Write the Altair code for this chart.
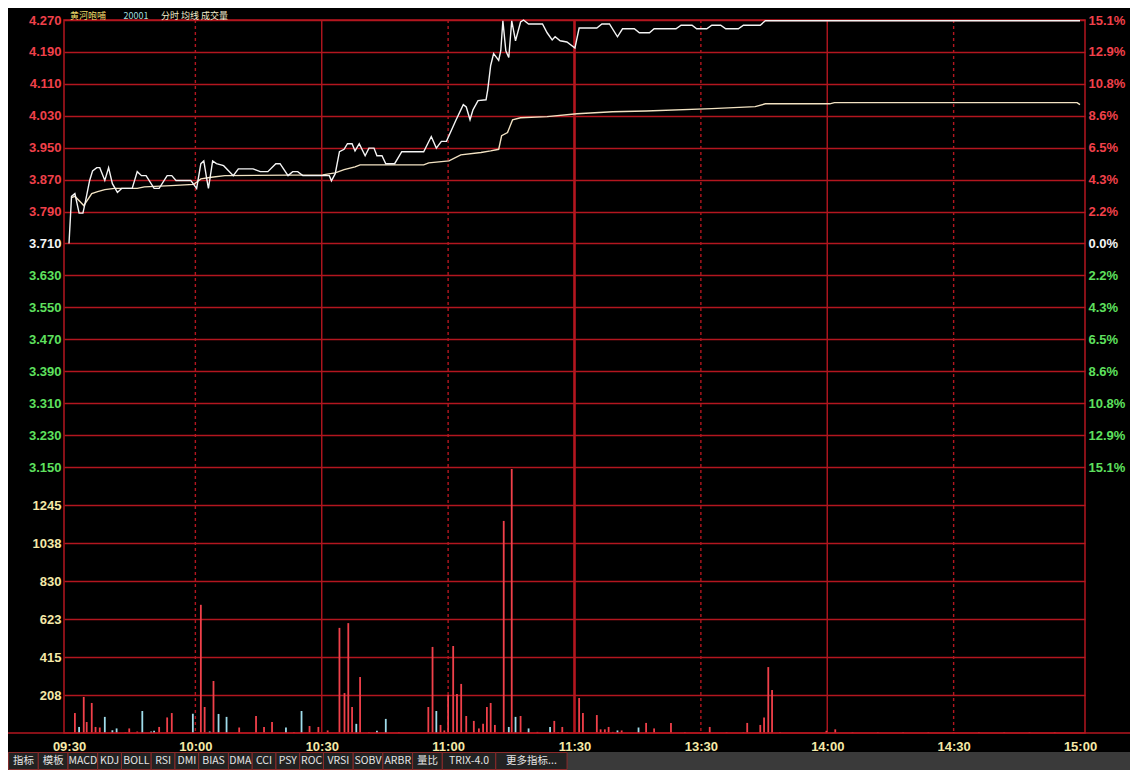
import altair as alt
import pandas as pd

# ---------------- values ----------------
prev_close = 3.71
stock_name = "黄河咆哺"
stock_code = "20001"
panel_names = "分时 均线 成交量"

# minutes after 09:30 (trading minutes, 13:00 follows 11:30) and price
price_min = [0, 0.6, 1.4, 2.4, 3.3, 3.8, 4.9, 5.6, 6.6, 7.3,
             8.5, 9.4, 10.3, 11.5, 12.5, 15.0, 16.2, 17.2, 18.3, 20.2,
             21.4, 23.3, 24.4, 25.4, 28.9, 30.3, 31.3, 32.0, 32.7, 33.1,
             34.1, 35.0, 36.7, 37.8, 39.0, 40.2, 43.7, 45.4, 47.2, 49.1,
             50.1, 52.0, 53.1, 54.3, 55.5, 61.8, 62.3, 63.2, 64.2, 65.3,
             66.1, 67.2, 67.9, 68.9, 70.3, 71.2, 72.4, 73.1, 74.3, 75.2,
             77.3, 79.0, 84.2, 86.0, 87.2, 88.4, 89.6, 91.9, 93.6, 94.3,
             95.2, 95.9, 97.1, 99.0, 99.4, 100.1, 100.8, 102.0, 102.5, 103.0,
             103.7, 104.4, 105.1, 106.0, 107.2, 107.9, 109.1, 112.4, 113.5, 114.7,
             115.4, 116.6, 118.2, 120.1, 121.1, 125.3, 126.5, 128.3, 130.2, 131.4,
             134.2, 135.4, 137.8, 138.9, 144.1, 145.3, 147.9, 149.0, 151.4, 152.6,
             154.7, 155.9, 158.9, 160.1, 164.1, 165.3, 240.0]
price_val = [3.710, 3.828, 3.835, 3.786, 3.786, 3.810, 3.868, 3.892, 3.900, 3.900,
             3.868, 3.900, 3.860, 3.838, 3.848, 3.848, 3.890, 3.880, 3.880, 3.848,
             3.848, 3.880, 3.880, 3.868, 3.868, 3.848, 3.910, 3.917, 3.872, 3.848,
             3.917, 3.910, 3.905, 3.893, 3.880, 3.897, 3.897, 3.890, 3.890, 3.910,
             3.910, 3.880, 3.890, 3.890, 3.880, 3.880, 3.867, 3.885, 3.940, 3.946,
             3.960, 3.960, 3.942, 3.960, 3.930, 3.949, 3.949, 3.930, 3.930, 3.910,
             3.910, 3.940, 3.940, 3.978, 3.949, 3.966, 3.966, 4.020, 4.058, 4.052,
             4.020, 4.045, 4.068, 4.070, 4.095, 4.156, 4.186, 4.169, 4.193, 4.268,
             4.193, 4.176, 4.268, 4.218, 4.265, 4.270, 4.260, 4.260, 4.238, 4.220,
             4.228, 4.218, 4.215, 4.200, 4.250, 4.250, 4.260, 4.260, 4.228, 4.248,
             4.248, 4.238, 4.238, 4.248, 4.248, 4.257, 4.257, 4.248, 4.248, 4.257,
             4.257, 4.248, 4.248, 4.257, 4.257, 4.268, 4.268]

avg_min = [0.6, 1.4, 2.6, 3.5, 5.4, 6.8, 8.5, 10.8, 16.2, 17.9,
           24.2, 29.6, 31.3, 33.8, 37.0, 60.2, 63.2, 65.3, 67.9, 69.1,
           84.2, 85.4, 90.2, 93.0, 97.8, 100.1, 102.0, 102.7, 104.1, 105.3,
           107.2, 113.5, 120.6, 129.0, 137.0, 152.6, 162.9, 165.3, 180.6, 181.7,
           239.3, 240.0]
avg_val = [3.825, 3.828, 3.815, 3.805, 3.835, 3.840, 3.845, 3.848, 3.848, 3.852,
           3.855, 3.858, 3.872, 3.876, 3.880, 3.882, 3.887, 3.895, 3.902, 3.907,
           3.907, 3.912, 3.917, 3.932, 3.938, 3.942, 3.946, 3.980, 3.988, 4.020,
           4.025, 4.028, 4.035, 4.040, 4.042, 4.048, 4.053, 4.060, 4.060, 4.063,
           4.063, 4.058]

# volume bars: price-up minutes (red) and price-down minutes (cyan)
up_min = [1.4, 3.5, 4.2, 5.4, 6.3, 7.3, 13.4, 14.3, 16.2, 21.4,
          23.3, 24.4, 31.3, 32.2, 34.3, 40.4, 44.4, 46.3, 48.2, 53.4,
          57.1, 59.2, 61.4, 64.2, 65.4, 66.3, 67.2, 69.1, 71.2, 78.3,
          85.3, 86.3, 88.2, 89.1, 90.0, 91.2, 92.1, 93.1, 94.3, 96.1,
          97.3, 98.3, 99.2, 100.1, 101.1, 103.2, 105.1, 107.2, 111.2, 115.2,
          116.1, 117.1, 118.2, 121.1, 122.0, 125.3, 126.2, 127.2, 128.1, 129.1,
          131.2, 137.0, 138.9, 142.9, 146.2, 152.1, 156.1, 160.1, 161.0, 164.1,
          165.0, 166.0, 166.9, 168.8, 179.8, 181.9, 186.0, 192.0, 198.0, 204.0,
          210.0, 216.0, 222.0, 228.0, 234.0]
up_val = [109, 197, 60, 164, 33, 30, 5, 25, 8, 33,
          85, 109, 700, 142, 284, 30, 93, 33, 60, 5,
          38, 33, 14, 574, 218, 600, 142, 306, 5, 4,
          142, 470, 44, 14, 208, 475, 213, 268, 93, 66,
          25, 50, 142, 164, 44, 1158, 1442, 93, 6, 66,
          6, 33, 4, 191, 109, 98, 20, 20, 33, 6,
          14, 55, 25, 55, 5, 33, 4, 4, 55, 44,
          85, 360, 235, 5, 12, 20, 4, 4, 4, 4,
          4, 4, 4, 4, 4]
down_min = [2.4, 8.5, 10.3, 11.3, 17.4, 19.5, 20.2, 29.4, 33.4, 35.5,
            37.4, 51.5, 55.2, 68.2, 73.1, 75.2, 87.2, 104.4, 106.0, 109.1,
            114.2, 130.2, 135.2]
down_val = [33, 88, 15, 25, 120, 8, 12, 105, 8, 104,
            88, 30, 120, 50, 12, 77, 120, 33, 88, 25,
            33, 14, 30]

price_ticks = [3.150, 3.230, 3.310, 3.390, 3.470, 3.550, 3.630, 3.710, 3.790, 3.870, 3.950,
               4.030, 4.110, 4.190, 4.270]
vol_ticks = [207.5, 415, 622.5, 830, 1037.5, 1245]
vol_top = 1452.5
time_ticks = [0, 30, 60, 90, 120, 150, 180, 210, 240]
time_labels = ["09:30", "10:00", "10:30", "11:00", "11:30", "13:30", "14:00", "14:30", "15:00"]
grid_min = [30, 60, 90, 120, 150, 180, 210]
grid_kind = ["dash", "solid", "dash", "bold", "dash", "solid", "dash"]
tab_labels = ["指标", "模板", "MACD", "KDJ", "BOLL", "RSI", "DMI", "BIAS", "DMA", "CCI",
              "PSY", "ROC", "VRSI", "SOBV", "ARBR", "量比", "TRIX-4.0", "更多指标..."]

# ---------------- layout / style ----------------
PAD_L, PAD_T, PAD_R = 56, 12, 45
W = 1021                  # plot width
H = 725 - PAD_T           # plot area height (both panels), bottom at page y 733
PH = 459 - PAD_T          # price panel height, ends at page y 467
TOTAL_H = 762
PAD_B = TOTAL_H - PAD_T - H

RED = "#f0404a"
GREEN = "#5ee05e"
WHITE = "#f4f4f4"
YEL = "#f5e9a8"
GRID = "#b3161f"
FONT = "Liberation Sans"

price_df = pd.DataFrame({"m": price_min, "p": price_val})
avg_df = pd.DataFrame({"m": avg_min, "p": avg_val})
vol_df = pd.concat([
    pd.DataFrame({"m": up_min, "v": up_val, "d": "u"}),
    pd.DataFrame({"m": down_min, "v": down_val, "d": "d"}),
], ignore_index=True)
grid_df = pd.DataFrame({"m": grid_min, "kind": grid_kind})


def px_to_min(px):
    return px / W * 240.0


# tab geometry derived from label lengths
def text_w(s):
    return 6 + sum(12 if ord(c) > 0x2E80 else 6 for c in s)


x0 = -61.0
rows = []
for lab in tab_labels:
    w = text_w(lab)
    rows.append({"lab": lab, "a": px_to_min(x0), "b": px_to_min(x0 + w),
                 "m": px_to_min(x0 + w / 2.0)})
    x0 += w
tab_df = pd.DataFrame(rows)

label_arr = "[" + ",".join("'%s'" % t for t in time_labels) + "]"

x_scale = alt.Scale(domain=[0, 240], nice=False, zero=False)
x_axis = alt.Axis(values=time_ticks, labelExpr=label_arr + "[round(datum.value/30)]",
                  grid=False, ticks=False, domain=False, labelFlush=False,
                  labelColor=YEL, labelFont=FONT, labelFontWeight="bold",
                  labelFontSize=13, labelPadding=7, title=None)
x_enc = alt.X("m:Q", scale=x_scale, axis=x_axis)

price_scale = alt.Scale(domain=[3.15, 4.27], range=[PH, 0], nice=False, zero=False)
price_scale2 = alt.Scale(domain=[3.15, 4.27], range=[PH, 0], nice=False, zero=False)
vol_scale = alt.Scale(domain=[0, vol_top], range=[H, PH], nice=False, zero=True)

three_color = {
    "condition": [
        {"test": "datum.value > %f" % (prev_close + 0.001), "value": RED},
        {"test": "datum.value > %f" % (prev_close - 0.001), "value": WHITE},
    ],
    "value": GREEN,
}

price_axis = alt.Axis(orient="left", values=price_ticks, format=".3f", grid=True,
                      gridColor=GRID, gridWidth=1.5, ticks=False, domain=False,
                      labelColor=three_color, labelFont=FONT, labelFontWeight="bold",
                      labelFontSize=13, labelPadding=3, title=None)
pct_axis = alt.Axis(orient="right", values=price_ticks, grid=False, ticks=False,
                    domain=False,
                    labelExpr="format(abs((datum.value-%f)/%f*100), '.1f') + '%%'"
                              % (prev_close, prev_close),
                    labelColor=three_color, labelFont=FONT, labelFontWeight="bold",
                    labelFontSize=13, labelPadding=3, title=None)
vol_axis = alt.Axis(orient="left", values=vol_ticks, format=".0f", grid=True,
                    gridColor=GRID, gridWidth=1.5, ticks=False, domain=False,
                    labelColor=YEL, labelFont=FONT, labelFontWeight="bold",
                    labelFontSize=13, labelPadding=3, title=None)

# vertical grid lines
vgrid = alt.Chart(grid_df).mark_rule(color=GRID).encode(
    x=x_enc,
    y=alt.value(0), y2=alt.value(H),
    strokeDash=alt.condition("datum.kind == 'dash'", alt.value([3, 3]), alt.value([1, 0])),
    strokeWidth=alt.condition("datum.kind == 'bold'", alt.value(2.6), alt.value(1.4)),
)

bars = alt.Chart(vol_df).mark_bar(width=1.8).encode(
    x=x_enc,
    y=alt.Y("v:Q", scale=vol_scale, axis=vol_axis),
    color=alt.Color("d:N", scale=alt.Scale(domain=["u", "d"], range=[RED, "#9fdcea"]),
                    legend=None),
)

avg_line = alt.Chart(avg_df).mark_line(color="#f2e2c2", strokeWidth=1.4).encode(
    x=x_enc,
    y=alt.Y("p:Q", scale=price_scale2, axis=pct_axis),
)

price_line = alt.Chart(price_df).mark_line(color=WHITE, strokeWidth=1.4).encode(
    x=x_enc,
    y=alt.Y("p:Q", scale=price_scale, axis=price_axis),
)

one = pd.DataFrame({"k": [0]})

bottom_line = alt.Chart(one).mark_rule(color=GRID, strokeWidth=1.5).encode(
    x=alt.value(-PAD_L), x2=alt.value(W + PAD_R), y=alt.value(H))

bar_bg = alt.Chart(one).mark_rect(color="#3a3a3a").encode(
    x=alt.value(-PAD_L), x2=alt.value(W + PAD_R), y=alt.value(H + 19), y2=alt.value(H + 37))

tab_rects = alt.Chart(tab_df).mark_rect(fill="#222222", stroke="#8a2a2a",
                                        strokeWidth=1).encode(
    x=alt.X("a:Q", scale=x_scale, axis=x_axis), x2="b:Q",
    y=alt.value(H + 19.5), y2=alt.value(H + 36.5))

tab_text = alt.Chart(tab_df).mark_text(color="#e4e4e4", font="Noto Sans CJK SC",
                                       fontSize=10.5, baseline="middle").encode(
    x=x_enc,
    y=alt.value(H + 28), text="lab:N")

title_df = pd.DataFrame({
    "t": [stock_name, stock_code, panel_names],
    "m": [px_to_min(1), px_to_min(55), px_to_min(93)],
    "col": ["#f0dc6a", "#9fdcdc", "#f2eccc"],
})
title_text = alt.Chart(title_df).mark_text(font="Noto Sans CJK SC", fontSize=9,
                                           align="left", baseline="alphabetic").encode(
    x=x_enc,
    y=alt.value(-1.4), text="t:N",
    color=alt.Color("col:N", scale=None))

chart = alt.layer(
    vgrid, bars, avg_line, price_line, bottom_line, bar_bg, tab_rects, tab_text, title_text
).resolve_scale(y="independent").properties(
    width=W, height=H,
    autosize=alt.AutoSizeParams(type="none"),
    padding={"left": PAD_L, "top": PAD_T, "right": PAD_R, "bottom": PAD_B},
    background="#000000",
).configure_view(fill="#000000", stroke=GRID, strokeWidth=1.5)

chart.save("out.html", embed_options={"renderer": "svg", "actions": False})
